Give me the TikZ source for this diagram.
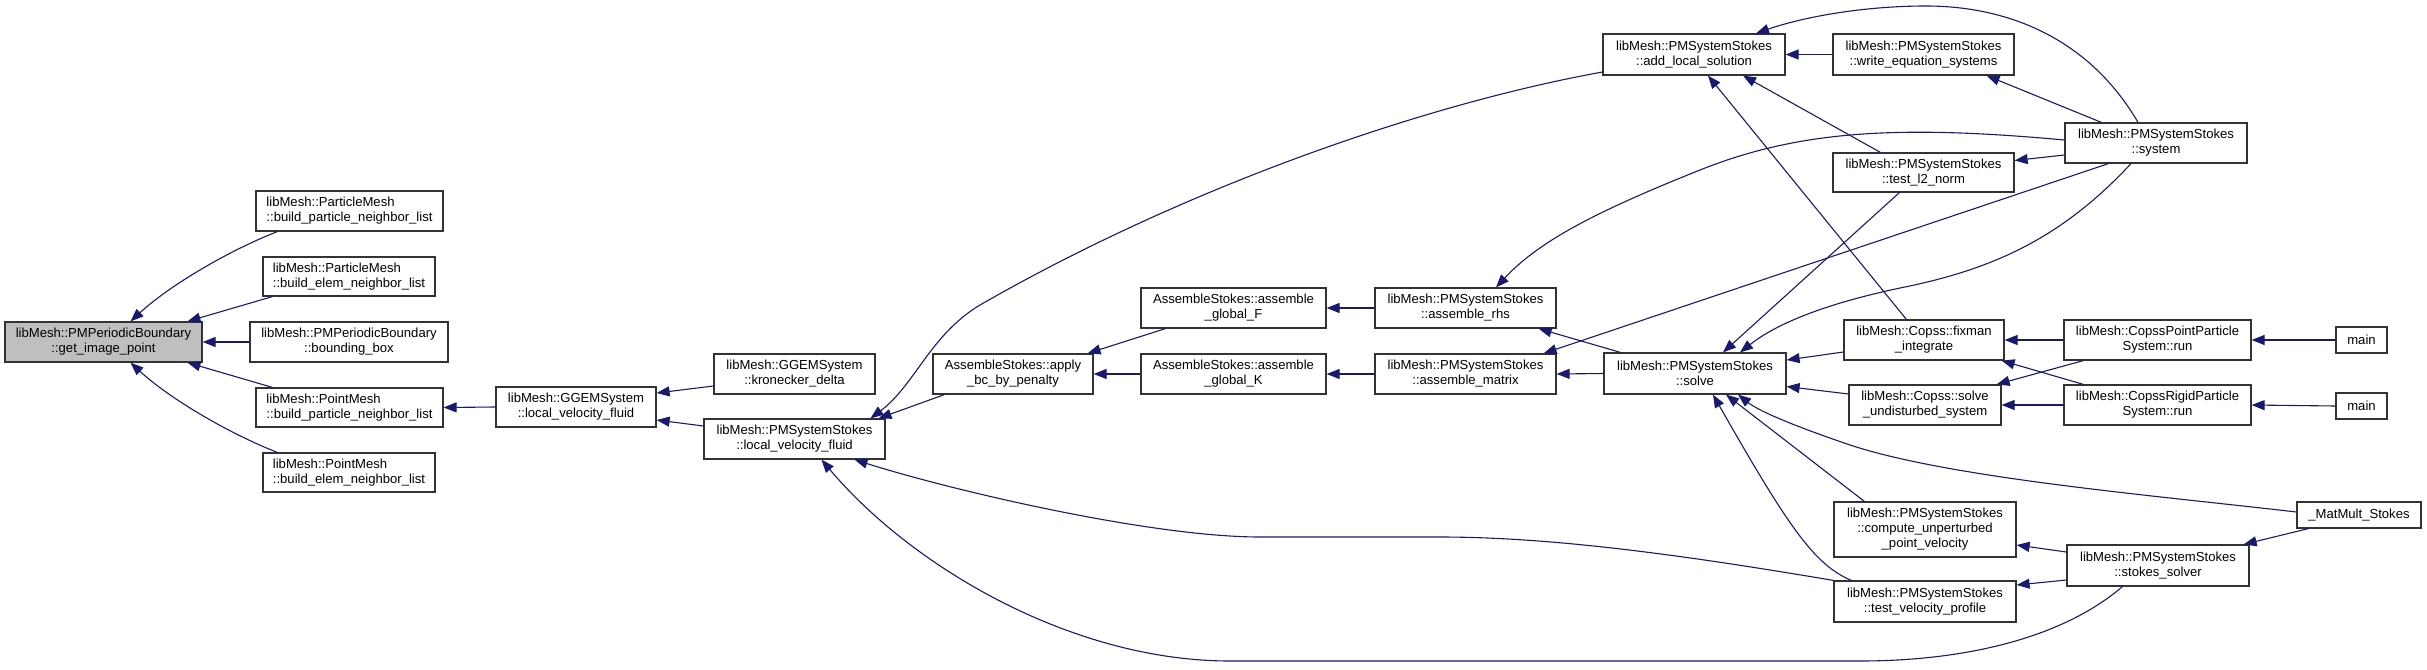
\documentclass[tikz,border=0pt]{standalone}
\usepackage{fontspec}
\setmainfont{Liberation Sans}
\usetikzlibrary{arrows.meta,calc}
\definecolor{edgec}{HTML}{191970}
\definecolor{hl}{HTML}{BFBFBF}
\begin{document}
\begin{tikzpicture}[x=1pt,y=-1pt,
  box/.style={draw=black!80, line width=1.2pt, fill=white, inner sep=0pt, align=center, font=\fontsize{13.1}{15}\selectfont},
  boxl/.style={box, align=left},
  edge/.style={draw=edgec, line width=1.1pt, -{Triangle[length=13pt,width=10pt]}},
]
\useasboundingbox (0,0) rectangle (2427,669);
\fill[white] (0,0) rectangle (2427,669);

% nodes
\node[box, fill=hl, minimum width=197pt, minimum height=40pt] (gip) at (103.5,342) {libMesh::PMPeriodicBoundary\\::get\_image\_point};
\node[boxl, minimum width=187pt, minimum height=40pt] (pmbp) at (349.5,211) {libMesh::ParticleMesh\\::build\_particle\_neighbor\_list};
\node[boxl, minimum width=172pt, minimum height=39pt] (pmbe) at (349,276.5) {libMesh::ParticleMesh\\::build\_elem\_neighbor\_list};
\node[box, minimum width=198pt, minimum height=40pt] (bbox) at (349,342) {libMesh::PMPeriodicBoundary\\::bounding\_box};
\node[boxl, minimum width=187pt, minimum height=39pt] (ptbp) at (349.5,407.5) {libMesh::PointMesh\\::build\_particle\_neighbor\_list};
\node[boxl, minimum width=172pt, minimum height=39pt] (ptbe) at (349,472.5) {libMesh::PointMesh\\::build\_elem\_neighbor\_list};
\node[box, minimum width=160pt, minimum height=40pt] (ggem) at (576,407) {libMesh::GGEMSystem\\::local\_velocity\_fluid};
\node[box, minimum width=161pt, minimum height=40pt] (kron) at (794.5,374) {libMesh::GGEMSystem\\::kronecker\_delta};
\node[box, minimum width=181pt, minimum height=40pt] (pmslvf) at (794.5,439) {libMesh::PMSystemStokes\\::local\_velocity\_fluid};
\node[box, minimum width=160pt, minimum height=40pt] (apply) at (1013,374) {AssembleStokes::apply\\\_bc\_by\_penalty};
\node[box, minimum width=185pt, minimum height=40pt] (agF) at (1233.5,308) {AssembleStokes::assemble\\\_global\_F};
\node[box, minimum width=185pt, minimum height=40pt] (agK) at (1233.5,374) {AssembleStokes::assemble\\\_global\_K};
\node[box, minimum width=181pt, minimum height=40pt] (rhs) at (1465.5,308) {libMesh::PMSystemStokes\\::assemble\_rhs};
\node[box, minimum width=181pt, minimum height=40pt] (mat) at (1465.5,374) {libMesh::PMSystemStokes\\::assemble\_matrix};
\node[box, minimum width=182pt, minimum height=41pt] (addloc) at (1694,54.5) {libMesh::PMSystemStokes\\::add\_local\_solution};
\node[box, minimum width=181pt, minimum height=41pt] (writeeq) at (1923.5,54.5) {libMesh::PMSystemStokes\\::write\_equation\_systems};
\node[box, minimum width=182pt, minimum height=40pt] (system) at (2156,143) {libMesh::PMSystemStokes\\::system};
\node[box, minimum width=181pt, minimum height=39pt] (l2) at (1923.5,172.5) {libMesh::PMSystemStokes\\::test\_l2\_norm};
\node[box, minimum width=182pt, minimum height=41pt] (solve) at (1695,373.5) {libMesh::PMSystemStokes\\::solve};
\node[box, minimum width=160pt, minimum height=40pt] (fixman) at (1924,340) {libMesh::Copss::fixman\\\_integrate};
\node[box, minimum width=152pt, minimum height=40pt] (undist) at (1925,405) {libMesh::Copss::solve\\\_undisturbed\_system};
\node[box, minimum width=187pt, minimum height=40pt] (cpp) at (2157.5,340) {libMesh::CopssPointParticle\\System::run};
\node[box, minimum width=187pt, minimum height=40pt] (crp) at (2157.5,405) {libMesh::CopssRigidParticle\\System::run};
\node[box, minimum width=51pt, minimum height=26pt] (mainA) at (2361.5,340) {main};
\node[box, minimum width=51pt, minimum height=26pt] (mainB) at (2361.5,406) {main};
\node[box, minimum width=182pt, minimum height=55pt] (cup) at (1925,529.5) {libMesh::PMSystemStokes\\::compute\_unperturbed\\\_point\_velocity};
\node[box, minimum width=182pt, minimum height=41pt] (tvp) at (1925,601.5) {libMesh::PMSystemStokes\\::test\_velocity\_profile};
\node[box, minimum width=182pt, minimum height=41pt] (stokes) at (2158,565.5) {libMesh::PMSystemStokes\\::stokes\_solver};
\node[box, minimum width=124pt, minimum height=26pt] (matmult) at (2359,515) {\_MatMult\_Stokes};

% edges
\draw[edge] ($(pmbp.south west)+(22,0)$) .. controls (230,250) and (170,285) .. ($(gip.north)+(27,0)$);
\draw[edge] ($(pmbe.south west)+(10,0)$) -- ($(gip.north)+(84,0)$);
\draw[edge] (bbox.west) -- (gip.east);
\draw[edge] ($(ptbp.north west)+(17,0)$) -- ($(gip.south)+(84,0)$);
\draw[edge] ($(ptbe.north west)+(15,0)$) .. controls (230,434) and (170,399) .. ($(gip.south)+(27,0)$);
\draw[edge] (ggem.west) -- (ptbp.east);
\draw[edge] ($(kron.west)+(0,12)$) -- ($(ggem.east)+(0,-14)$);
\draw[edge] ($(pmslvf.west)+(0,-13)$) -- ($(ggem.east)+(0,13)$);
\draw[edge] ($(addloc.west)+(0,17.5)$) .. controls (1420,105) and (1180,190) .. (980,305) .. controls (930,335) and (915,385) .. ($(pmslvf.north)+(76,0)$);
\draw[edge] ($(apply.south west)+(12,0)$) -- ($(pmslvf.north)+(84,0)$);
\draw[edge] (tvp.north west) .. controls (1700,558) and (1560,537) .. (1440,537) -- (1260,537) .. controls (1150,537) and (950,490) .. ($(pmslvf.south)+(60,0)$);
\draw[edge] ($(stokes.south west)+(56,0)$) .. controls (2060,640) and (1960,661) .. (1860,661) -- (1230,661) .. controls (1070,661) and (910,565) .. ($(pmslvf.south)+(27,0)$);
\draw[edge] ($(agF.south west)+(25,0)$) -- ($(apply.north east)+(-6,0)$);
\draw[edge] (agK.west) -- (apply.east);
\draw[edge] (rhs.west) -- (agF.east);
\draw[edge] (mat.west) -- (agK.east);
\draw[edge] ($(system.west)+(0,-3)$) .. controls (1900,125) and (1800,130) .. (1700,170) .. controls (1600,210) and (1540,240) .. ($(rhs.north)+(30.5,0)$);
\draw[edge] ($(solve.north west)+(17,0)$) -- ($(rhs.south east)+(-18,0)$);
\draw[edge] ($(system.south west)+(44,0)$) -- ($(mat.north east)+(-13,0)$);
\draw[edge] (solve.west) -- (mat.east);
\draw[edge] (writeeq.west) -- (addloc.east);
\draw[edge] ($(system.north)+(-18,0)$) .. controls (2090,40) and (2010,6) .. (1926,6) .. controls (1860,6) and (1800,18) .. ($(addloc.north)+(62,0)$);
\draw[edge] ($(system.north west)+(37,0)$) -- ($(writeeq.south east)+(-28,0)$);
\draw[edge] ($(system.west)+(0,12)$) -- ($(l2.east)+(0,-12)$);
\draw[edge] ($(l2.north west)+(48,0)$) -- ($(addloc.south)+(49,0)$);
\draw[edge] ($(fixman.north west)+(63,0)$) -- ($(addloc.south)+(14,0)$);
\draw[edge] ($(l2.south west)+(67,0)$) -- ($(solve.north)+(28,0)$);
\draw[edge] ($(system.south)+(-25,0)$) .. controls (2060,240) and (1990,270) .. (1900,288) .. controls (1820,305) and (1775,325) .. ($(solve.north)+(45,0)$);
\draw[edge] ($(fixman.west)+(0,12)$) -- ($(solve.east)+(0,-13.5)$);
\draw[edge] ($(undist.west)+(0,-11)$) -- ($(solve.east)+(0,13)$);
\draw[edge] (cpp.west) -- (fixman.east);
\draw[edge] (crp.west) -- (undist.east);
\draw[edge] ($(cpp.south west)+(20,0)$) -- ($(undist.north east)+(-5,0)$);
\draw[edge] ($(crp.north west)+(20,0)$) -- ($(fixman.south east)+(-3,0)$);
\draw[edge] (mainA.west) -- (cpp.east);
\draw[edge] (mainB.west) -- (crp.east);
\draw[edge] ($(tvp.north west)+(18,0)$) .. controls (1815,565) and (1790,530) .. ($(solve.south)+(18,0)$);
\draw[edge] ($(cup.north west)+(31,0)$) -- ($(solve.south)+(31,0)$);
\draw[edge] ($(matmult.west)+(0,-3)$) .. controls (2150,495) and (1950,478) .. (1850,445) .. controls (1800,428) and (1760,412) .. ($(solve.south)+(43,0)$);
\draw[edge] ($(stokes.west)+(0,-13.5)$) -- ($(cup.east)+(0,15.5)$);
\draw[edge] ($(stokes.west)+(0,14.5)$) -- ($(tvp.east)+(0,-16.5)$);
\draw[edge] ($(matmult.south west)+(12,0)$) -- ($(stokes.north east)+(-6,0)$);
\end{tikzpicture}
\end{document}
